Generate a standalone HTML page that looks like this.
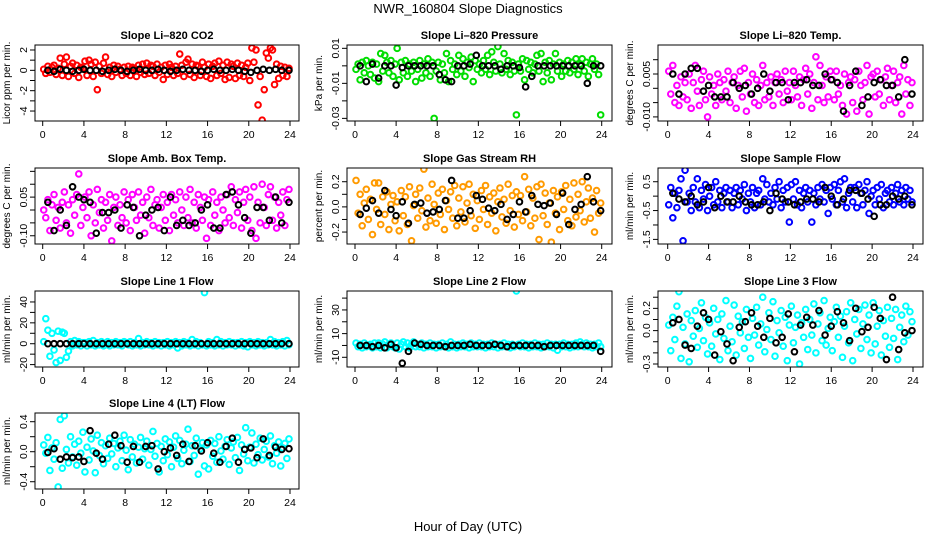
<!DOCTYPE html>
<html><head><meta charset="utf-8"><style>
html,body{margin:0;padding:0;background:#fff;}
svg{display:block;font-family:"Liberation Sans",Arial,sans-serif;}
</style></head><body>
<svg id="chart" width="936" height="540" viewBox="0 0 936 540" xmlns="http://www.w3.org/2000/svg">
<rect width="936" height="540" fill="#fff"/>
<text x="468" y="13" text-anchor="middle" font-size="13">NWR_160804  Slope Diagnostics</text>
<text x="468" y="531" text-anchor="middle" font-size="13">Hour of Day (UTC)</text>
</svg>
<script>
const hours=[0.1,0.3,0.5,0.7,0.9,1.1,1.3,1.5,1.7,1.9,2.1,2.3,2.5,2.7,2.9,3.1,3.3,3.5,3.7,3.9,4.1,4.3,4.5,4.7,4.9,5.1,5.3,5.5,5.7,5.9,6.1,6.3,6.5,6.7,6.9,7.1,7.3,7.5,7.7,7.9,8.1,8.3,8.5,8.7,8.9,9.1,9.3,9.5,9.7,9.9,10.1,10.3,10.5,10.7,10.9,11.1,11.3,11.5,11.7,11.9,12.1,12.3,12.5,12.7,12.9,13.1,13.3,13.5,13.7,13.9,14.1,14.3,14.5,14.7,14.9,15.1,15.3,15.5,15.7,15.9,16.1,16.3,16.5,16.7,16.9,17.1,17.3,17.5,17.7,17.9,18.1,18.3,18.5,18.7,18.9,19.1,19.3,19.5,19.7,19.9,20.1,20.3,20.5,20.7,20.9,21.1,21.3,21.5,21.7,21.9,22.1,22.3,22.5,22.7,22.9,23.1,23.3,23.5,23.7,23.9];
const blackHours=[0.5,1.1,1.7,2.3,2.9,3.5,4.0,4.6,5.2,5.8,6.4,7.0,7.6,8.2,8.8,9.4,10.0,10.6,11.2,11.8,12.4,13.0,13.6,14.2,14.8,15.4,16.0,16.6,17.2,17.8,18.4,19.0,19.6,20.2,20.8,21.4,22.0,22.6,23.2,23.9];
const xTicks=[0,4,8,12,16,20,24];

const co2Vals=[0.1,-0.3,0.4,-0.2,0.3,0.5,-0.4,0.2,1.2,-0.5, 0.6,1.3,-0.6,0.4,0.7,-0.3,0.5,-0.7,0.3,0.2, 0.9,-0.5,1.0,0.6,-0.6,0.8,-1.9,0.4,-0.3,0.7, 1.3,-0.4,0.3,-0.6,0.5,-0.2,0.4,0.1,-0.5,0.3, -0.3,0.4,-0.5,0.3,0.2,-0.6,0.5,-0.2,0.6,-0.4, 0.7,-0.3,0.5,0.4,-0.5,0.6,-0.2,0.3,-0.9,0.5, -0.4,0.6,0.3,-0.5,0.4,-0.3,1.6,0.5,-0.6,0.8, 1.1,-0.4,0.6,-0.7,0.5,0.4,-0.5,0.8,0.3,-0.6, 0.6,-0.8,0.4,0.7,-0.5,0.9,-0.3,0.5,-0.9,0.8, -0.7,0.6,0.4,-0.8,0.7,-0.5,0.5,-0.6,0.3,0.7, -1.0,2.2,0.8,2.0,-3.4,-0.6,-4.9,-1.9,1.7,1.2, 2.2,2.0,-1.4,0.6,-0.8,0.4,-0.5,0.3,-0.6,0.2];
const co2Black=[0,-0.1,0.1,0,-0.1,0,0.1,0,0,-0.1,0,0.1,0,-0.1,0,0.1,0,0,0.1,0,-0.1,0,0.1,0,0,-0.1,0,0.1,0,0,0.1,0,-0.1,-0.2,0,0.1,0,0.1,0,0];

const pressVals=[-0.002,0.001,-0.008,0.002,-0.004,0.003,0,-0.005,0.002,-0.007, 0.001,-0.009,0.007,-0.003,0.006,0.002,-0.004,0.003,-0.006,0.001, 0.010,-0.008,0.002,-0.004,0.003,-0.006,0.001,-0.003,0.002,-0.009, -0.002,0.003,-0.007,0.001,-0.004,0.004,-0.006,0.002,-0.030,-0.003, 0.002,-0.008,0.001,-0.004,0.007,-0.009,0.003,-0.002,0.001,-0.005, 0.006,-0.003,0.004,-0.006,0.002,-0.001,0.005,-0.009,0.003,-0.002, 0.001,-0.004,0.003,-0.002,0.006,-0.005,0.008,0.002,-0.003,0.011, 0.001,-0.004,0.007,-0.002,0.003,-0.005,0.002,-0.003,-0.028,0.001, -0.003,0.004,-0.008,0.003,-0.002,0.002,-0.004,0.001,0.006,-0.003, 0.007,-0.009,0.002,-0.004,0.003,-0.008,0.001,0.007,-0.003,0.002, -0.006,0.001,-0.003,0.003,-0.004,0.002,-0.002,0.004,-0.005,0.001, 0.004,-0.003,0.002,-0.006,0.001,0.004,-0.002,0.001,-0.005,-0.028];
const pressBlack=[0,-0.009,0.001,-0.007,0,0,-0.011,-0.001,0,0,0,0,0,-0.005,-0.008,-0.009,0,0,0.001,0.006,0,0,0,-0.002,0,0,-0.001,-0.012,-0.006,0,0,0,0,0,0,0,0,-0.010,0,0];

const tempVals=[0.006,-0.002,0.008,-0.005,0.001,-0.006,0.004,-0.003,0.002,-0.004, 0.005,-0.007,0.002,0.008,-0.001,-0.006,0.003,0.006,-0.004,-0.010, 0.004,-0.002,0.001,-0.006,0.005,0.002,-0.004,0.003,-0.001,0.006, -0.005,0.002,0.004,-0.007,0.001,0.006,-0.003,0.007,-0.008,0.002, -0.002,0.005,-0.005,0.003,-0.006,0.001,0.008,-0.004,0.002,-0.003, 0.004,-0.006,0.002,0.005,-0.002,0.003,-0.005,0.006,-0.001,0.002, -0.004,0.006,0.001,-0.003,0.004,-0.006,0.003,0.007,-0.002,0.005, -0.007,0.002,0.011,-0.004,0.008,0.001,-0.005,0.004,-0.003,0.006, 0.003,-0.004,0.006,-0.002,0.001,-0.006,0.005,-0.009,0.002,0.004, -0.005,0.003,-0.008,0.006,0.001,-0.004,0.002,0.008,-0.009,0.004, 0.005,-0.003,0.006,-0.002,0.003,-0.006,0.004,0.007,-0.004,0.001, 0.006,-0.005,0.002,0.004,-0.009,0.008,-0.002,0.003,-0.006,0.002];
const tempBlack=[0.005,-0.002,0.005,0.007,0.007,-0.001,0.001,-0.003,-0.003,-0.003,0.002,0.000,0.001,-0.002,0.000,0.005,-0.001,0.002,0.002,-0.004,0.002,0.002,0.003,0.001,0.001,0.005,0.003,0.002,-0.008,0.001,0.006,-0.006,-0.003,0.002,0.003,0.001,0.001,-0.003,0.010,-0.002];

const ambVals=[0.000,-0.030,0.040,-0.080,0.020,0.060,-0.040,0.010,-0.070,0.030, 0.070,-0.050,0.020,-0.090,0.040,-0.020,0.060,0.140,-0.060,0.010, 0.050,-0.030,0.070,-0.100,0.020,-0.050,0.080,-0.010,0.040,-0.070, 0.030,-0.040,0.060,-0.120,0.010,0.050,-0.060,0.020,-0.030,0.070, -0.050,0.040,-0.080,0.060,0.010,-0.040,0.070,-0.020,0.030,-0.090, 0.050,-0.030,0.080,-0.060,0.020,0.040,-0.070,0.010,0.060,-0.040, 0.030,-0.080,0.060,-0.020,0.040,-0.050,0.070,0.000,-0.060,0.050, -0.030,0.080,-0.050,0.030,-0.070,0.060,0.010,-0.040,0.050,-0.110, 0.040,-0.060,0.070,-0.020,0.030,-0.080,0.050,0.000,-0.050,0.060, -0.030,0.090,-0.060,0.040,-0.010,0.070,-0.070,0.030,0.080,-0.040, 0.050,-0.080,0.090,-0.110,0.030,-0.050,0.100,0.010,-0.060,0.060, 0.090,-0.040,0.050,-0.070,0.030,-0.020,0.070,-0.060,0.040,0.080];
const ambBlack=[0.03,-0.08,0.00,-0.06,0.09,0.05,0.04,0.03,-0.09,-0.01,-0.01,0.00,-0.07,0.02,0.01,-0.10,-0.02,0.00,0.01,-0.08,0.05,-0.06,-0.04,-0.06,-0.05,0.00,0.02,-0.07,-0.07,0.06,0.07,0.02,-0.03,-0.09,0.01,0.01,-0.04,0.05,-0.05,0.03];

const rhVals=[0.21,-0.05,0.10,-0.15,0.03,0.14,-0.10,0.06,-0.22,0.19, -0.02,0.19,-0.14,0.08,-0.06,0.12,-0.18,0.02,0.09,-0.11, 0.04,-0.19,0.13,-0.07,0.08,-0.14,0.16,-0.27,0.01,0.10, -0.09,0.15,-0.03,0.30,-0.16,0.07,-0.11,0.18,0.02,-0.13, 0.11,-0.06,0.14,-0.18,0.05,-0.02,0.12,-0.09,0.17,-0.15, 0.07,-0.04,0.16,-0.12,0.03,0.18,-0.07,0.10,-0.17,0.05, -0.10,0.13,-0.02,0.17,-0.14,0.08,-0.05,0.11,-0.19,0.04, 0.15,-0.08,0.06,-0.13,0.18,-0.03,0.09,-0.16,0.12,-0.06, 0.09,-0.11,0.24,-0.04,0.14,-0.15,0.07,-0.09,0.16,-0.26, 0.18,-0.07,0.11,-0.14,0.03,-0.28,0.13,-0.05,0.08,-0.18, 0.12,-0.02,0.17,-0.11,0.06,-0.15,0.19,-0.08,0.10,-0.03, 0.20,-0.12,0.04,0.15,-0.09,0.07,-0.20,0.13,-0.05,0.03];
const rhBlack=[-0.06,-0.01,0.05,-0.05,0.13,-0.02,-0.07,0.04,-0.13,0.02,0.03,-0.05,-0.04,-0.02,0.05,0.21,-0.09,-0.09,-0.03,0.09,0.06,-0.01,-0.03,0.02,-0.10,-0.06,0.04,-0.04,0.09,0.02,0.01,0.03,-0.06,0.11,-0.14,-0.02,0.02,0.24,0.04,-0.03];

const sampleVals=[-0.3,0.3,-0.75,0.1,-0.4,0.2,0.6,-1.55,0.9,-0.2, 0.1,-0.5,0.3,-0.2,0.6,-0.4,0.2,-0.1,0.4,-0.5, 0.0,0.3,-0.3,0.5,-0.2,0.2,-0.4,0.1,0.3,-0.2, 0.2,-0.4,0.1,0.3,-0.3,0.2,-0.1,0.4,-0.5,0.1, -0.2,0.3,-0.4,0.1,0.2,-0.3,0.6,-0.1,0.4,-0.2, 0.1,-0.3,0.3,-0.1,0.5,-0.4,0.2,-0.2,0.3,-0.9, 0.4,-0.1,0.5,-0.3,0.2,-0.4,0.1,0.3,-0.2,0.2, -0.9,0.1,-0.3,0.3,-0.1,0.4,-0.2,0.2,-0.6,0.3, -0.1,0.4,-0.3,0.2,0.5,-0.2,0.6,-0.4,0.1,0.3, -0.2,0.3,-0.4,0.4,0.1,-0.3,0.2,0.5,-0.6,0.0, 0.2,-0.3,0.3,-0.1,0.4,-0.4,0.1,0.2,-0.2,0.3, -0.3,0.1,0.4,-0.2,0.2,-0.3,0.3,-0.1,0.2,-0.2];
const sampleBlack=[0.1,-0.1,-0.2,0.0,-0.3,-0.2,0.3,-0.4,0.0,-0.2,-0.2,0.0,-0.2,-0.3,-0.3,-0.2,-0.5,0.1,-0.1,-0.2,-0.3,-0.2,-0.1,-0.1,-0.2,0.3,0.0,-0.3,-0.1,0.2,0.2,0.1,-0.1,-0.7,-0.3,-0.3,0.0,-0.1,0.0,-0.3];

const line1Vals=[2,24,13,-12,10,-6,-18,12,-16,11, 10,-13,-7,2,-2,3,-1,2,-2,1, 1,-2,2,-1,3,-2,1,-1,2,-2, -1,2,-2,1,-1,2,-1,1,-2,2, 1,-1,2,-2,1,-1,5,-2,1,-1, 2,-1,1,-2,2,-1,1,-2,1,-1, 2,-2,1,-1,2,-4,1,-2,2,-1, 1,-2,4,-1,2,-2,1,-1,49,-2, 2,-1,1,-2,4,-1,2,-2,1,-1, 2,-1,1,-2,1,-1,2,-2,1,-3, 2,-1,1,-2,2,-1,1,-2,1,-1, 4,-1,2,-2,1,-1,2,-2,3,-1];
const line1Black=[0,0,0,0,0,0,0,0,0,0,0,0,0,0,0,0,0,0,0,0,0,0,0,0,0,0,0,0,0,0,0,0,0,0,0,0,0,0,0,0];

const line2Vals=[2,-1,1,-2,2,-1,0,1,-2,2, -1,2,-2,1,3,-2,1,2,-1,-2, 2,-3,1,3,-1,2,-2,1,3,-1, 1,-1,2,-2,1,-1,2,-1,1,-2, 1,-1,2,-1,1,-2,3,-1,1,-2, 1,-1,2,-1,1,-2,2,-1,1,-1, 2,-1,1,-2,1,-1,2,-1,1,-2, 1,-1,2,-1,1,-2,1,-1,46,1, -1,2,-1,1,-2,1,-1,2,-1,1, -2,1,-1,2,-1,1,-2,1,-4,1, -1,2,-1,1,-2,1,-1,2,-1,3, 1,-1,2,-1,1,-2,1,-1,2,-1];
const line2Black=[0,0,-1,0,-2,1,-2,-15,-5,2,1,0,0,0,-1,0,0,0,1,0,0,0,1,0,-1,0,0,0,0,0,-1,0,0,0,0,0,0,0,0,-5];

const line3Vals=[0.05,-0.18,0.12,-0.08,0.22,0.35,-0.25,0.03,-0.12,0.15, -0.28,0.09,-0.05,0.18,-0.15,0.02,0.25,-0.09,0.12,-0.21, 0.07,-0.14,0.2,-0.03,0.1,-0.26,0.15,-0.07,0.27,-0.18, 0.04,-0.1,0.23,-0.22,0.13,-0.02,0.08,-0.16,0.19,-0.06, -0.25,0.11,-0.04,0.21,-0.13,0.06,0.3,-0.19,0.01,0.16, -0.08,0.26,-0.23,0.09,-0.02,0.18,-0.14,0.12,-0.27,0.05, 0.22,-0.11,0.03,0.14,-0.3,0.07,-0.06,0.19,-0.17,0.1, -0.04,0.24,-0.2,0.06,0.16,-0.09,0.27,-0.13,0.02,0.12, -0.18,0.08,0.21,-0.06,0.13,-0.24,0.04,0.17,-0.11,0.25, -0.27,0.1,-0.03,0.19,-0.16,0.06,0.23,-0.08,0.14,-0.2, 0.25,-0.12,0.04,0.18,-0.22,0.09,-0.05,0.21,-0.15,0.11, -0.07,0.19,-0.26,0.03,0.14,-0.1,0.22,-0.04,0.17,0.08];
const line3Black=[0.07,0.1,-0.13,-0.16,0.04,0.16,0.1,-0.22,-0.01,-0.12,-0.27,0.03,0.08,0.16,0.04,-0.06,0.11,-0.11,-0.06,0.15,-0.19,0.05,0.12,0.05,0.18,-0.04,0.04,0.17,0.07,-0.09,0.2,-0.01,0.03,0.21,0.11,-0.26,0.3,-0.17,-0.02,0.0];

const line4Vals=[0.09,-0.02,0.19,-0.25,0.05,-0.1,0.12,-0.47,0.43,-0.22, 0.48,0.03,-0.15,0.2,-0.07,0.1,-0.18,0.14,-0.02,0.26, -0.27,0.06,-0.11,0.17,0.01,-0.28,0.22,-0.05,0.12,-0.16, 0.08,-0.09,0.18,-0.03,0.11,-0.2,0.05,0.14,-0.12,0.22, 0.02,-0.24,0.16,-0.07,0.1,-0.15,0.06,0.19,-0.1,0.04, 0.14,-0.18,0.03,0.27,-0.06,0.11,-0.27,0.07,-0.12,0.17, -0.04,0.13,-0.2,0.06,0.21,-0.09,0.15,-0.16,0.02,0.1, 0.3,-0.13,0.08,-0.05,0.18,-0.3,0.04,0.12,-0.19,0.09, -0.23,0.15,-0.06,0.11,-0.14,0.2,0.01,-0.1,0.07,0.16, -0.17,0.05,0.13,-0.08,0.19,-0.25,0.09,-0.03,0.32,-0.12, 0.06,0.25,-0.15,0.1,-0.04,0.18,-0.11,0.03,0.14,-0.07, 0.21,-0.16,0.08,-0.02,0.13,-0.19,0.05,0.11,-0.09,0.17];
const line4Black=[-0.01,0.04,-0.1,-0.07,-0.08,-0.07,-0.13,0.28,-0.02,-0.1,0.1,0.22,0.08,-0.14,0.07,-0.14,0.07,0.08,-0.23,0.0,0.05,-0.05,0.1,-0.13,0.08,0.01,0.12,-0.02,-0.14,0.07,0.18,-0.14,0.03,0.05,-0.08,0.17,-0.05,0.06,0.03,0.04];

const colBox=[[35,299,42.7,290],[347,612,355,601.7],[658,923,667.7,913]];
const rowBox=[[45,121],[168,244],[291,367],[413,489]];

const panels=[
 {id:'co2',title:'Slope Li\u2013820 CO2',ylab:'Licor ppm per min.',c:0,r:0,ymin:-4.98,ymax:2.49,ticks:[-4,-3,-2,-1,0,1,2],labels:['-4','','-2','','0','','2'],color:'#ff0000',vals:co2Vals,blk:co2Black},
 {id:'pressure',title:'Slope Li\u2013820 Pressure',ylab:'kPa per min.',c:1,r:0,ymin:-0.0315,ymax:0.0119,ticks:[-0.03,-0.02,-0.01,0,0.01],labels:['-0.03','','-0.01','','0.01'],color:'#00dd00',vals:pressVals,blk:pressBlack},
 {id:'temp',title:'Slope Li\u2013820 Temp.',ylab:'degrees C per min.',c:2,r:0,ymin:-0.01143,ymax:0.01514,ticks:[-0.01,-0.005,0,0.005,0.01],labels:['-0.010','','','0.005',''],color:'#ff00ff',vals:tempVals,blk:tempBlack},
 {id:'amb-box-temp',title:'Slope Amb. Box Temp.',ylab:'degrees C per min.',c:0,r:1,ymin:-0.132,ymax:0.163,ticks:[-0.1,-0.05,0,0.05,0.1,0.15],labels:['-0.10','','','0.05','',''],color:'#ff00ff',vals:ambVals,blk:ambBlack},
 {id:'gas-stream-rh',title:'Slope Gas Stream RH',ylab:'percent per min.',c:1,r:1,ymin:-0.295,ymax:0.309,ticks:[-0.2,-0.1,0,0.1,0.2],labels:['-0.2','','0.0','','0.2'],color:'#ff9a00',vals:rhVals,blk:rhBlack},
 {id:'sample-flow',title:'Slope Sample Flow',ylab:'ml/min per min.',c:2,r:1,ymin:-1.66,ymax:0.976,ticks:[-1.5,-1,-0.5,0,0.5],labels:['-1.5','','-0.5','','0.5'],color:'#0000ff',vals:sampleVals,blk:sampleBlack},
 {id:'line1-flow',title:'Slope Line 1 Flow',ylab:'ml/min per min.',c:0,r:2,ymin:-22.3,ymax:50.5,ticks:[-20,-10,0,10,20,30,40],labels:['-20','','0','','20','','40'],color:'#00ffff',vals:line1Vals,blk:line1Black},
 {id:'line2-flow',title:'Slope Line 2 Flow',ylab:'ml/min per min.',c:1,r:2,ymin:-18.2,ymax:46,ticks:[-10,0,10,20,30,40],labels:['-10','','10','','30',''],color:'#00ffff',vals:line2Vals,blk:line2Black},
 {id:'line3-flow',title:'Slope Line 3 Flow',ylab:'ml/min per min.',c:2,r:2,ymin:-0.327,ymax:0.356,ticks:[-0.3,-0.2,-0.1,0,0.1,0.2,0.3],labels:['-0.3','','','0.0','','0.2',''],color:'#00ffff',vals:line3Vals,blk:line3Black},
 {id:'line4-flow',title:'Slope Line 4 (LT) Flow',ylab:'ml/min per min.',c:0,r:3,ymin:-0.497,ymax:0.516,ticks:[-0.4,-0.2,0,0.2,0.4],labels:['-0.4','','0.0','','0.4'],color:'#00ffff',vals:line4Vals,blk:line4Black}
];

const NS='http://www.w3.org/2000/svg';
const svg=document.getElementById('chart');
function mk(tag,attrs,parent){const e=document.createElementNS(NS,tag);for(const k in attrs)e.setAttribute(k,attrs[k]);parent.appendChild(e);return e;}

panels.forEach(p=>{
  const [bx0,bx1,px0,px24]=colBox[p.c];
  const [by0,by1]=rowBox[p.r];
  const xs=h=>px0+(px24-px0)*h/24;
  const ys=v=>by1-(v-p.ymin)/(p.ymax-p.ymin)*(by1-by0);
  const g=mk('g',{},svg);
  
  
  const t=mk('text',{x:(bx0+bx1)/2,y:by0-6,'text-anchor':'middle','font-size':'11','font-weight':'bold'},g);
  t.textContent=p.title;
  
  
  const yl=mk('text',{x:0,y:0,'text-anchor':'middle','font-size':'10',transform:`translate(${bx0-25},${(by0+by1)/2}) rotate(-90)`},g);
  yl.textContent=p.ylab;
  
  
  const xa=mk('g',{stroke:'#000','stroke-width':'1'},g);
  
  
  mk('line',{x1:xs(0),x2:xs(24),y1:by1,y2:by1},xa);
  xTicks.forEach(v=>{
    const tk=mk('line',{x1:xs(v),x2:xs(v),y1:by1,y2:by1+5},xa);
    
    
    const tl=mk('text',{x:xs(v),y:by1+17,'text-anchor':'middle','font-size':'10.5',stroke:'none',fill:'#000'},xa);
    tl.textContent=String(v);
    
    
  });
  const ya=mk('g',{stroke:'#000','stroke-width':'1'},g);
  
  
  p.ticks.forEach((v,i)=>{
    const yy=ys(v);
    const tk=mk('line',{x1:bx0-5,x2:bx0,y1:yy,y2:yy},ya);
    
    
    if(p.labels[i]){
      const tl=mk('text',{x:0,y:0,'text-anchor':'middle','font-size':'10.5',stroke:'none',fill:'#000',transform:`translate(${bx0-8},${yy}) rotate(-90)`},ya);
      tl.textContent=p.labels[i];
      
      
    }
  });
  const clip=mk('clipPath',{id:'clip-'+p.id},g);
  mk('rect',{x:bx0,y:by0,width:bx1-bx0,height:by1-by0},clip);
  const pts=mk('g',{'clip-path':`url(#clip-${p.id})`,fill:'none','stroke-width':'2'},g);
  
  
  p.vals.forEach((v,i)=>{
    const c=mk('circle',{cx:xs(hours[i]),cy:ys(v),r:2.8,stroke:p.color},pts);
    
    
  });
  p.blk.forEach((v,i)=>{
    const c=mk('circle',{cx:xs(blackHours[i]),cy:ys(v),r:2.8,stroke:'#000'},pts);
    
    
  });
  const box=mk('rect',{x:bx0,y:by0,width:bx1-bx0,height:by1-by0,fill:'none',stroke:'#000','stroke-width':'1'},g);
  
  
});
</script>
</body></html>
